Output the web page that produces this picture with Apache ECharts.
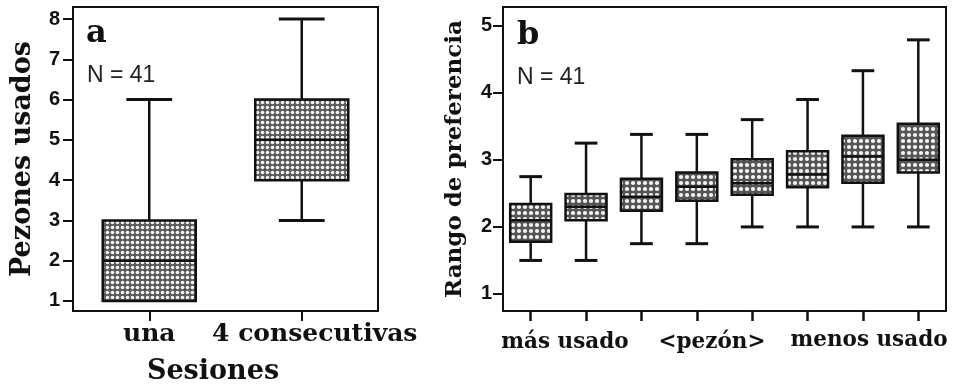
<!DOCTYPE html>
<html><head><meta charset="utf-8">
<script src="https://cdn.jsdelivr.net/npm/echarts@6/dist/echarts.min.js"></script>
<style>html,body{margin:0;padding:0;background:#fff}#c{width:970px;height:388px}</style>
</head><body><div id="c"></div>
<script>
// ---- data ----
const catsA = ['una', '4 consecutivas'];
// [min, Q1, median, Q3, max]
const boxA = [[1, 1, 2, 3, 6], [3, 4, 5, 6, 8]];
const ticksA = [1, 2, 3, 4, 5, 6, 7, 8];

const catsB = ['1', '2', '3', '4', '5', '6', '7', '8'];
const boxB = [
  [1.5, 1.78, 2.1, 2.34, 2.75],
  [1.5, 2.1, 2.3, 2.49, 3.25],
  [1.75, 2.24, 2.45, 2.72, 3.38],
  [1.75, 2.39, 2.6, 2.81, 3.38],
  [2.0, 2.48, 2.65, 3.01, 3.6],
  [2.0, 2.59, 2.78, 3.13, 3.9],
  [2.0, 2.66, 3.05, 3.36, 4.33],
  [2.0, 2.81, 3.0, 3.54, 4.79]
];
const ticksB = [1, 2, 3, 4, 5];
const groupLabelsB = ['más usado', '<pezón>', 'menos usado'];
const nText = 'N = 41';

// ---- pattern ----
function makePattern(size, r, bg) {
  const cv = document.createElement('canvas');
  cv.width = size; cv.height = size;
  const ctx = cv.getContext('2d');
  ctx.fillStyle = bg;
  ctx.fillRect(0, 0, size, size);
  ctx.fillStyle = '#f4f4f4';
  ctx.beginPath();
  ctx.arc(size / 2, size / 2, r, 0, Math.PI * 2);
  ctx.fill();
  return cv;
}
const patA = { image: makePattern(5, 1.8, '#5a5a5a'), repeat: 'repeat' };
const patB = { image: makePattern(6, 2.1, '#555555'), repeat: 'repeat' };

function makeRender(boxRatio, capRatio, pattern) {
  return function (params, api) {
    const i = api.value(0);
    const vMin = api.value(1), q1 = api.value(2), med = api.value(3), q3 = api.value(4), vMax = api.value(5);
    const band = api.size([1, 0])[0];
    const bw = band * boxRatio, cw = band * capRatio;
    const pMin = api.coord([i, vMin]), pQ1 = api.coord([i, q1]), pMed = api.coord([i, med]),
          pQ3 = api.coord([i, q3]), pMax = api.coord([i, vMax]);
    const cx = pMin[0];
    const ls = { stroke: '#111', lineWidth: 2.5 };
    const ch = [];
    if (vMax > q3) {
      ch.push({ type: 'line', shape: { x1: cx, y1: pQ3[1], x2: cx, y2: pMax[1] }, style: ls });
      ch.push({ type: 'line', shape: { x1: cx - cw / 2, y1: pMax[1], x2: cx + cw / 2, y2: pMax[1] }, style: { stroke: '#111', lineWidth: 3 } });
    }
    if (vMin < q1) {
      ch.push({ type: 'line', shape: { x1: cx, y1: pQ1[1], x2: cx, y2: pMin[1] }, style: ls });
      ch.push({ type: 'line', shape: { x1: cx - cw / 2, y1: pMin[1], x2: cx + cw / 2, y2: pMin[1] }, style: { stroke: '#111', lineWidth: 3 } });
    }
    ch.push({ type: 'rect', shape: { x: cx - bw / 2, y: pQ3[1], width: bw, height: pQ1[1] - pQ3[1] },
      style: { fill: pattern, stroke: '#111', lineWidth: 2.5 } });
    ch.push({ type: 'line', shape: { x1: cx - bw / 2, y1: pMed[1], x2: cx + bw / 2, y2: pMed[1] }, style: { stroke: '#111', lineWidth: 2.5 } });
    return { type: 'group', children: ch };
  };
}

const serif = 'DejaVu Serif';
const sans = 'Liberation Sans';

const chart = echarts.init(document.getElementById('c'), null, { renderer: 'canvas' });
const yAxisCommon = {
  type: 'value',
  splitLine: { show: false },
  axisLine: { show: false },
  axisTick: { show: true, length: 10, lineStyle: { color: '#111', width: 2 } },
  nameLocation: 'middle',
  nameRotate: 90
};
chart.setOption({
  animation: false,
  grid: [
    { left: 73, top: 7, width: 305, height: 304, show: true, borderColor: '#111', borderWidth: 2, backgroundColor: 'transparent', containLabel: false, outerBoundsMode: 'none' },
    { left: 503, top: 7, width: 443, height: 304, show: true, borderColor: '#111', borderWidth: 2, backgroundColor: 'transparent', containLabel: false, outerBoundsMode: 'none' }
  ],
  xAxis: [
    { type: 'category', gridIndex: 0, boundaryGap: true,
      data: catsA.map((c, i) => i === 1 ? { value: c, textStyle: { padding: [0, 0, 0, 26] } } : c),
      axisLine: { show: false },
      axisTick: { show: true, alignWithLabel: true, length: 10, lineStyle: { color: '#111', width: 2 } },
      axisLabel: { interval: 0, hideOverlap: false, margin: 11, fontFamily: serif, fontWeight: 'bold', fontSize: 25, color: '#111' } },
    { type: 'category', gridIndex: 1, data: catsB, boundaryGap: true,
      axisLine: { show: false },
      axisTick: { show: true, alignWithLabel: true, length: 10, lineStyle: { color: '#111', width: 2.5 } },
      axisLabel: { show: false } }
  ],
  yAxis: [
    Object.assign({}, yAxisCommon, { gridIndex: 0, min: 0.75, max: 8.3, name: 'Pezones usados', nameGap: 37,
      nameTextStyle: { fontFamily: serif, fontWeight: 'bold', fontSize: 27, color: '#111' },
      axisTick: Object.assign({}, yAxisCommon.axisTick, { customValues: ticksA }),
      axisLabel: { customValues: ticksA, margin: 13, fontFamily: sans, fontWeight: 'bold', fontSize: 20, color: '#111' } }),
    Object.assign({}, yAxisCommon, { gridIndex: 1, min: 0.746, max: 5.28, name: 'Rango de preferencia', nameGap: 36,
      nameTextStyle: { fontFamily: serif, fontWeight: 'bold', fontSize: 23, color: '#111' },
      axisTick: Object.assign({}, yAxisCommon.axisTick, { customValues: ticksB }),
      axisLabel: { customValues: ticksB, margin: 11, fontFamily: sans, fontWeight: 'bold', fontSize: 20, color: '#111' } })
  ],
  series: [
    { type: 'custom', xAxisIndex: 0, yAxisIndex: 0, renderItem: makeRender(0.61, 0.3, patA),
      encode: { x: 0, y: [1, 2, 3, 4, 5] }, data: boxA.map((b, i) => [i].concat(b)) },
    { type: 'custom', xAxisIndex: 1, yAxisIndex: 1, renderItem: makeRender(0.74, 0.41, patB),
      encode: { x: 0, y: [1, 2, 3, 4, 5] }, data: boxB.map((b, i) => [i].concat(b)) }
  ],
  graphic: [
    { type: 'text', left: 86, top: 18, style: { text: 'a', font: 'bold 32px "DejaVu Serif"', fill: '#111' } },
    { type: 'text', left: 87, top: 64, style: { text: nText, font: '23px "Liberation Sans"', fill: '#222' } },
    { type: 'text', left: 517, top: 20, style: { text: 'b', font: 'bold 32px "DejaVu Serif"', fill: '#111' } },
    { type: 'text', left: 517, top: 66, style: { text: nText, font: '23px "Liberation Sans"', fill: '#222' } },
    { type: 'text', x: 213, y: 372, style: { text: 'Sesiones', font: 'bold 27px "DejaVu Serif"', fill: '#111', align: 'center', verticalAlign: 'middle' } },
    { type: 'text', x: 565, y: 342, style: { text: groupLabelsB[0], font: 'bold 21.5px "DejaVu Serif"', fill: '#111', align: 'center', verticalAlign: 'middle' } },
    { type: 'text', x: 712, y: 342, style: { text: groupLabelsB[1], font: 'bold 21.5px "DejaVu Serif"', fill: '#111', align: 'center', verticalAlign: 'middle' } },
    { type: 'text', x: 869, y: 340, style: { text: groupLabelsB[2], font: 'bold 21.5px "DejaVu Serif"', fill: '#111', align: 'center', verticalAlign: 'middle' } }
  ]
});
</script></body></html>
